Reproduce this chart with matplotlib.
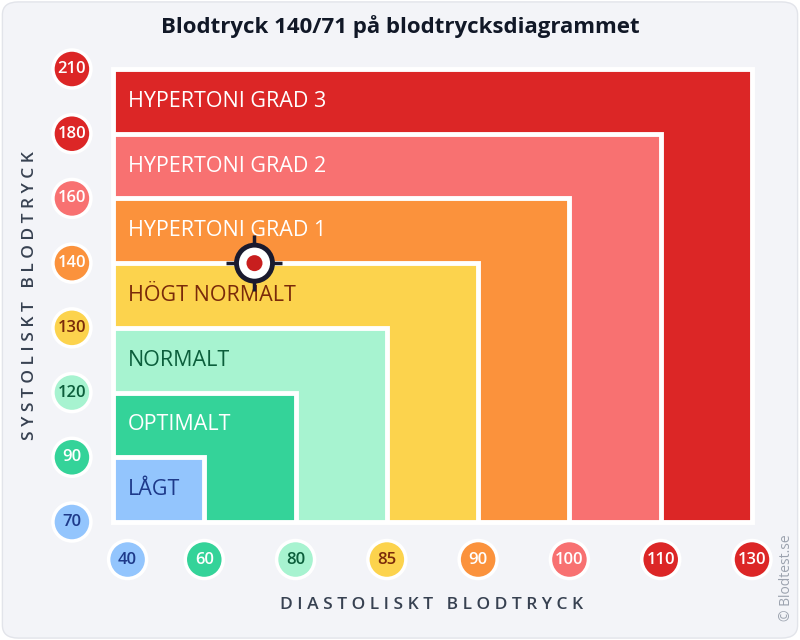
import matplotlib
matplotlib.use("Agg")
import matplotlib.pyplot as plt
import numpy as np
from matplotlib.patches import Rectangle, Ellipse, FancyBboxPatch

plt.rcParams['font.family'] = ['Open Sans', 'DejaVu Sans']

categories = ["LÅGT", "OPTIMALT", "NORMALT", "HÖGT NORMALT", "HYPERTONI GRAD 1", "HYPERTONI GRAD 2", "HYPERTONI GRAD 3"]
fill_colors = ["#93c5fd", "#34d399", "#a7f3d0", "#fcd34d", "#fb923c", "#f87171", "#dc2626"]
text_colors = ["#1e3a8a", "white", "#0b5e3b", "#7a2a0a", "white", "white", "white"]
sys_ticks = [70, 90, 120, 130, 140, 160, 180, 210]
dia_ticks = [40, 60, 80, 85, 90, 100, 110, 130]
dia_pos = [0.16, 1, 2, 3, 4, 5, 6, 7]
tick_colors = ["#93c5fd", "#34d399", "#a7f3d0", "#fcd34d", "#fb923c", "#f87171", "#dc2626", "#dc2626"]
tick_text = ["#1e3a8a", "white", "#0b5e3b", "#7a2a0a", "white", "white", "white", "white"]
reading_sys, reading_dia = 140, 71

fig = plt.figure(figsize=(8, 6.4), dpi=100)
fig.patch.set_facecolor("white")
bg = FancyBboxPatch((0.003, 0.003), 0.994, 0.994, boxstyle="round,pad=0,rounding_size=0.02",
                    transform=fig.transFigure, facecolor="#f3f4f8", edgecolor="#e2e4ea", lw=1, zorder=-10)
fig.patches.append(bg)
ax = fig.add_axes([113/800, 1-522/640, (752-113)/800, (522-69)/640])
ax.set_zorder(1)
ax.set_xlim(0, 7); ax.set_ylim(0, 7)
ax.axis("off")
for i in range(6, -1, -1):
    ax.add_patch(Rectangle((0, 0), i+1, i+1, facecolor=fill_colors[i], edgecolor="white", lw=3.5, clip_on=False))
    ax.text(0.16, i+0.5, categories[i], color=text_colors[i], fontsize=15.5, va="center", ha="left", fontweight="medium")

rx, ry = 19/91.3, 19/64.7
for k, v in enumerate(sys_ticks):
    ax.add_patch(Ellipse((-0.45, k), 2*rx, 2*ry, facecolor=tick_colors[k], edgecolor="white", lw=2.5, clip_on=False))
    ax.text(-0.45, k, str(v), ha="center", va="center", fontsize=12, color=tick_text[k], fontweight="semibold")
for k, v in enumerate(dia_ticks):
    ax.add_patch(Ellipse((dia_pos[k], -0.58), 2*rx, 2*ry, facecolor=tick_colors[k], edgecolor="white", lw=2.5, clip_on=False))
    ax.text(dia_pos[k], -0.58, str(v), ha="center", va="center", fontsize=12, color=tick_text[k], fontweight="semibold")

mx = np.interp(reading_dia, [60, 80], [1, 2])
my = sys_ticks.index(reading_sys)
for dx, dy in [(-1, 0), (1, 0), (0, -1), (0, 1)]:
    ax.plot([mx + dx*12/91.3, mx + dx*28/91.3], [my + dy*12/64.7, my + dy*28/64.7], color="#1a1a2e", lw=2.5, solid_capstyle="butt", zorder=4)
ax.add_patch(Ellipse((mx, my), 36/91.3, 36/64.7, facecolor="white", edgecolor="#1a1a2e", lw=3.5, zorder=5))
ax.add_patch(Ellipse((mx, my), 16/91.3, 16/64.7, facecolor="#c81e1e", edgecolor="none", zorder=6))

fig.text(0.5, 1-27/640, "Blodtryck 140/71 på blodtrycksdiagrammet", ha="center", va="center", fontsize=16, fontweight="bold", color="#111827")
fig.text(0.54, 1-605/640, "D I A S T O L I S K T   B L O D T R Y C K", ha="center", va="center", fontsize=12.5, color="#374151", fontweight="semibold")
fig.text(30/800, 1-296/640, "S Y S T O L I S K T   B L O D T R Y C K", ha="center", va="center", rotation=90, fontsize=12.5, color="#374151", fontweight="semibold")
fig.text(786/800, 1-578/640, "© Blodtest.se", ha="center", va="center", rotation=90, fontsize=10, color="#9ca3af")
fig.savefig("out.png", dpi=100)
